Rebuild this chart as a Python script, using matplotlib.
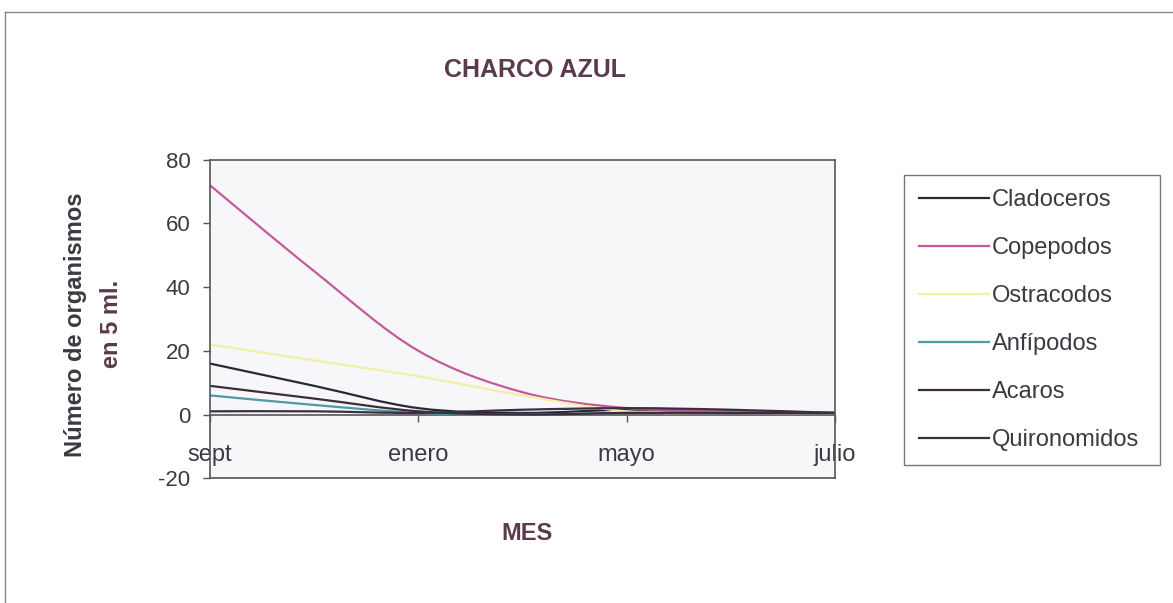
import matplotlib
matplotlib.use("Agg")
import matplotlib.pyplot as plt
from matplotlib.path import Path
from matplotlib.patches import PathPatch
from matplotlib.lines import Line2D
import numpy as np

plt.rcParams['font.family'] = ['Liberation Sans', 'DejaVu Sans']
plt.rcParams['axes.unicode_minus'] = False

# data
months = ['sept', 'nov', 'enero', 'marzo', 'mayo', 'junio', 'julio']
shown_months = ['sept', 'enero', 'mayo', 'julio']
cladoceros = [16, 9, 2, 0.5, 1.5, 1, 0.5]
copepodos = [72, 45, 20, 7, 2, 1, 0.5]
ostracodos = [22, 17, 12, 6, 1, 0.5, 0.5]
anfipodos = [6, 3, 0.5, 0, 0.5, 0.5, 0.5]
acaros = [9, 5, 1, 0, 0.5, 0.5, 0.5]
quironomidos = [1, 1, 0.5, 1.5, 2, 1.5, 0.5]

series = [
    ("Cladoceros", cladoceros, "#2a2838"),
    ("Copepodos", copepodos, "#c45a9c"),
    ("Ostracodos", ostracodos, "#f2f0a6"),
    ("Anf\u00edpodos", anfipodos, "#4f9aa8"),
    ("Acaros", acaros, "#3e2c3c"),
    ("Quironomidos", quironomidos, "#3a3040"),
]

text_col = "#3a3a42"
title_col = "#5a3a4c"


def smooth_path(xs, ys):
    # Excel-like smoothed line: cubic bezier through every data point
    pts = np.column_stack([xs, ys]).astype(float)
    n = len(pts)
    verts = [pts[0]]
    codes = [Path.MOVETO]
    for i in range(n - 1):
        p0 = pts[max(i - 1, 0)]
        p1 = pts[i]
        p2 = pts[i + 1]
        p3 = pts[min(i + 2, n - 1)]
        verts += [p1 + (p2 - p0) / 6, p2 - (p3 - p1) / 6, p2]
        codes += [Path.CURVE4] * 3
    return Path(verts, codes)


fig = plt.figure(figsize=(11.73, 6.03), dpi=100)
ax = fig.add_axes([0.179, 0.207, 0.533, 0.528])
ax.set_facecolor("#f7f7f9")

x = np.arange(len(months))
handles = []
for name, vals, col in series:
    patch = PathPatch(smooth_path(x, vals), facecolor="none", edgecolor=col,
                      lw=1.6, transform=ax.transData)
    ax.add_patch(patch)
    handles.append(Line2D([], [], color=col, lw=1.6, label=name))

ax.set_xlim(0, len(months) - 1)
ax.set_ylim(-20, 80)
ax.set_yticks([-20, 0, 20, 40, 60, 80])
ax.set_xticks([])
ax.tick_params(axis='y', direction='out', length=5, width=1, pad=9,
               labelsize=16, labelcolor=text_col, color="#555555")
for sp in ax.spines.values():
    sp.set_color("#555555")
    sp.set_linewidth(1.2)

# category axis crossing at y = 0
sec = ax.secondary_xaxis(0.2)
sec.set_xticks([months.index(m) for m in shown_months], shown_months)
sec.tick_params(direction='out', length=5, width=1, pad=16, labelsize=17,
                labelcolor=text_col, color="#555555")
sec.spines['bottom'].set_color("#555555")
sec.spines['bottom'].set_linewidth(1.2)

fig.text(0.456, 0.884, "CHARCO AZUL", ha='center', va='center', fontsize=18,
         fontweight='bold', color=title_col)
fig.text(0.449, 0.116, "MES", ha='center', va='center', fontsize=17,
         fontweight='bold', color=title_col)
fig.text(0.064, 0.462, "N\u00famero de organismos", rotation=90, ha='center',
         va='center', fontsize=17, fontweight='bold', color=text_col)
fig.text(0.095, 0.462, "en 5 ml.", rotation=90, ha='center', va='center',
         fontsize=17, fontweight='bold', color=title_col)

leg = fig.legend(handles=handles, loc='upper left',
                 bbox_to_anchor=(0.771, 0.232, 0.218, 0.478), mode='expand',
                 fontsize=17, handlelength=3.0, handletextpad=0.1,
                 labelspacing=1.1, borderpad=0.6, borderaxespad=0,
                 fancybox=False, framealpha=1, edgecolor="#777777",
                 labelcolor=text_col)
leg.get_frame().set_linewidth(1.0)

# outer chart area border (top and left edges visible in the scan)
fig.add_artist(Line2D([0.004, 0.004], [0.0, 0.98], color="#888888", lw=1.0))
fig.add_artist(Line2D([0.004, 1.0], [0.98, 0.98], color="#888888", lw=1.0))

fig.savefig("out.png", dpi=100)
